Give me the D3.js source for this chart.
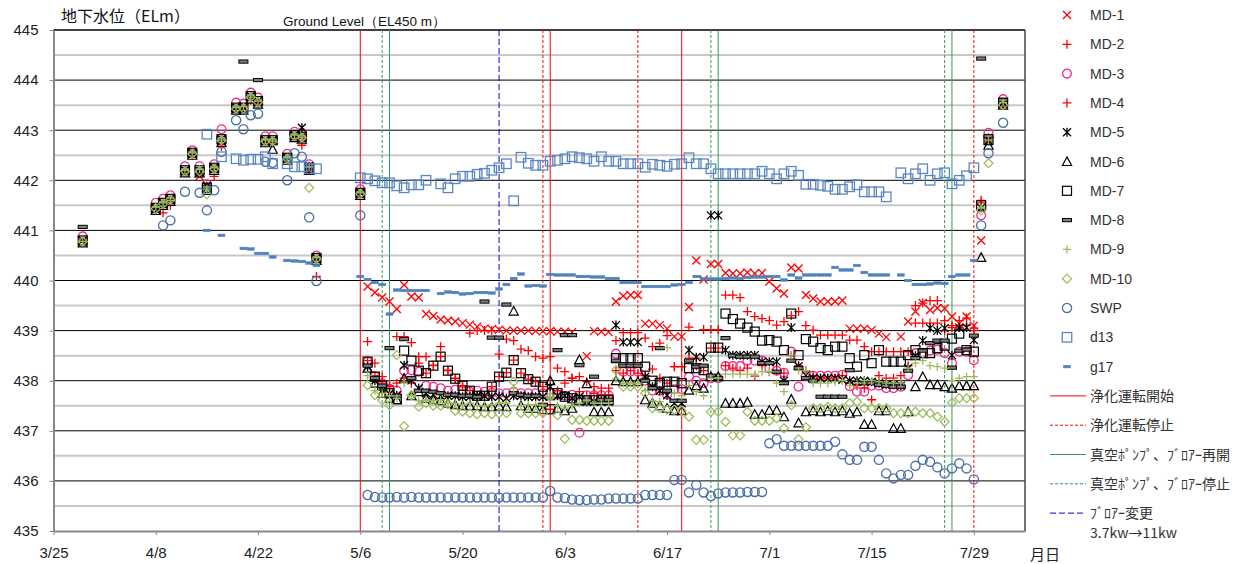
<!DOCTYPE html>
<html>
<head>
<meta charset="utf-8">
<script src="https://cdn.jsdelivr.net/npm/d3@7"></script>
<style>
body { margin: 0; background: #fff; }
svg { display: block; }
text { font-family: "Liberation Sans", Arial, sans-serif; }
.jp { font-family: "Noto Sans CJK JP", sans-serif; }
</style>
</head>
<body>
<script>
// observation days, counted from 3/25
const days = [4,14,15,16,18,19,20,21,22,23,25,26,27,28,29,30,32,33,34,35,36,42,
  43,44,45,46,47,48,49,50,51,52,53,54,55,56,57,58,59,60,61,62,63,64,65,66,67,68,69,70,71,72,
  73,74,75,76,77,78,79,80,81,82,83,84,85,86,87,88,89,90,91,92,93,94,95,96,97,98,99,100,101,102,
  103,104,105,106,107,108,109,110,111,112,113,114,115,116,117,118,119,120,121,122,123,124,125,126,
  127,128,130];

const md1 = [440.8,441.45,441.55,441.63,442.18,442.55,442.08,441.9,442.25,442.82,443.45,443.45,443.68,443.58,442.8,442.8,442.45,442.9,442.87,442.25,440.45,441.75,
  439.88,439.76,439.66,439.58,439.43,439.91,439.68,439.66,439.33,439.29,
  439.22,439.20,439.18,439.15,439.12,439.08,439.04,439.03,439.02,439.00,
  439.00,439.00,439.00,438.99,438.99,438.99,438.98,438.98,438.97,null,
  438.49,438.99,438.98,438.97,439.58,439.69,439.71,439.71,439.14,439.14,
  439.11,439.04,438.88,438.88,439.47,440.40,440.02,440.33,440.33,440.15,
  440.14,440.14,440.16,440.14,440.15,439.98,439.84,439.74,440.26,440.24,
  439.71,439.64,439.58,439.58,439.58,439.60,439.04,439.04,439.04,439.01,
  438.94,438.87,null,438.88,439.18,439.38,439.55,439.41,439.45,439.44,
  439.28,439.14,439.28,439.10,
  440.80,442.85,443.55];

const md2 = [440.78,441.42,441.35,441.5,442.15,442.5,442.15,441.85,442.08,442.68,443.42,443.42,443.65,443.55,442.75,442.75,442.42,442.85,442.7,442.2,440.08,441.72,
  438.78,438.35,438.08,437.90,438.88,438.88,438.76,438.48,438.48,438.31,
  438.68,438.21,438.05,437.88,438.95,439.00,439.00,439.00,438.53,438.83,
  438.80,438.63,438.60,438.48,438.45,438.48,438.25,438.18,438.05,438.08,
  437.98,437.88,437.85,437.85,438.80,438.96,438.96,438.96,438.85,438.68,
  438.75,438.90,438.28,438.28,439.07,438.45,439.02,439.02,439.02,439.71,
  439.71,439.66,439.38,439.28,439.24,439.20,439.11,439.18,439.30,439.38,
  439.10,439.01,438.91,438.91,438.91,438.91,438.81,438.81,438.68,438.58,
  438.58,438.58,438.58,438.58,438.58,439.15,439.15,439.15,439.15,439.00,
  439.06,439.06,439.11,439.00,
  441.60,442.80,443.50];

const md3 = [440.88,441.55,441.63,441.7,442.28,442.6,442.28,441.92,442.32,443.02,443.55,443.53,443.75,443.65,442.88,442.88,442.53,442.97,442.95,442.32,440.5,441.82,
  438.38,438.09,437.95,437.84,437.80,438.20,438.21,438.18,437.90,437.88,
  437.85,437.80,437.82,437.80,437.78,437.80,437.78,437.76,437.75,437.75,
  437.78,437.75,437.75,437.75,437.75,437.75,437.72,437.70,437.72,436.96,
  437.71,437.71,437.71,437.71,438.54,438.18,438.18,438.18,438.00,437.80,
  437.80,437.72,437.83,437.83,438.08,438.00,437.95,438.05,438.05,438.29,
  438.29,438.29,438.40,438.40,438.40,438.25,438.20,438.16,438.58,437.88,
  438.10,438.10,438.10,438.10,438.10,438.12,437.89,437.78,437.78,437.90,
  437.90,437.85,437.85,437.88,438.11,438.55,438.55,438.60,438.62,438.55,
  438.35,438.58,438.58,438.41,
  441.30,442.95,443.62];

const md4 = [440.8,441.45,441.55,441.58,442.2,442.55,442.2,441.85,442.22,442.72,443.45,443.45,443.6,443.52,442.8,442.78,442.42,442.9,442.85,442.22,440.4,441.75,
  438.40,438.10,437.95,437.88,437.95,438.05,437.95,438.35,438.15,438.30,
  438.48,438.20,438.04,437.90,437.80,437.70,437.70,437.88,438.08,438.16,
  438.41,438.15,438.03,437.98,437.88,437.43,437.80,437.95,438.05,437.78,
  437.70,437.75,437.72,437.72,438.20,438.15,438.20,438.15,438.10,438.23,
  438.05,437.95,438.28,438.28,438.45,438.30,438.20,438.65,438.65,438.30,
  438.25,438.20,438.25,438.09,438.30,438.18,438.20,438.15,438.50,438.30,
  438.20,438.10,438.05,438.05,438.05,438.10,437.95,437.90,437.85,437.62,
  438.10,438.05,438.05,438.10,438.30,439.50,439.55,439.60,439.60,439.20,
  439.10,439.20,439.25,439.05,
  441.55,442.85,443.55];

const md5 = [440.8,441.45,441.55,441.63,442.2,442.55,442.15,441.88,442.25,442.82,443.45,443.45,443.68,443.58,442.8,442.8,442.45,442.9,443.05,442.28,440.45,441.75,
  438.28,438.00,437.80,437.74,437.71,438.31,438.01,437.85,437.75,437.72,
  437.70,437.70,437.70,437.68,437.68,437.70,437.70,437.68,437.68,437.65,
  437.70,437.70,437.68,437.68,437.68,437.88,437.70,437.70,437.65,437.68,
  437.58,437.58,437.58,437.58,439.11,438.77,438.77,438.77,438.08,437.88,
  437.80,437.71,437.55,437.55,438.61,438.47,438.47,441.30,441.30,438.61,
  438.51,438.51,438.51,438.51,438.38,438.38,438.38,438.00,439.06,438.29,
  438.11,438.05,438.05,438.05,438.05,438.02,438.00,438.00,438.00,437.98,
  437.95,437.92,437.92,437.90,438.25,438.50,438.80,439.05,439.00,439.05,
  438.51,439.06,439.06,438.81,
  441.45,442.80,443.55];

const md6 = [440.75,441.4,441.5,441.58,442.15,442.5,442.15,441.8,442.2,442.75,443.4,443.4,443.62,443.52,442.75,442.62,442.4,442.85,442.82,442.2,440.4,441.7,
  438.25,437.95,437.75,437.65,437.62,438.05,437.70,437.78,437.65,437.62,
  437.60,437.55,437.52,437.50,437.50,437.50,437.48,437.48,437.50,437.48,
  439.39,437.50,437.45,437.45,437.42,438.00,437.45,437.40,437.45,438.42,
  437.94,437.38,437.38,437.38,438.00,437.98,437.98,437.98,437.62,437.55,
  437.50,437.45,437.40,437.40,437.81,437.90,437.85,438.08,438.08,437.55,
  437.55,437.55,437.57,437.33,437.33,437.41,437.41,437.28,437.63,437.16,
  437.38,437.40,437.38,437.40,437.38,437.40,437.35,437.38,437.13,437.13,
  437.40,437.40,437.05,437.05,437.38,437.88,438.08,437.92,437.92,437.88,
  437.85,437.90,437.90,437.90,
  440.46,442.70,443.50];

const md7 = [440.8,441.45,441.55,441.63,442.2,442.55,442.2,441.85,442.25,442.82,443.45,443.45,443.68,443.58,442.8,442.8,442.45,442.9,442.87,442.25,440.45,441.75,
  438.38,438.08,437.90,437.75,437.63,438.60,438.40,438.20,438.15,438.30,
  438.48,438.20,438.04,437.90,437.80,437.70,437.70,437.88,438.08,438.16,
  438.41,438.15,438.03,437.98,437.88,437.43,437.75,437.68,437.65,437.61,
  437.61,437.61,437.61,437.61,438.45,438.45,438.45,438.45,438.28,438.00,
  437.95,437.98,437.98,437.95,438.25,438.25,438.21,438.66,438.66,439.34,
  439.23,439.14,439.06,438.98,438.80,438.81,438.78,438.61,439.34,438.51,
  438.83,438.78,438.65,438.61,438.68,438.68,438.45,438.28,438.51,438.35,
  438.61,438.38,438.38,438.38,438.51,438.61,438.55,438.55,438.65,438.70,
  438.84,438.94,438.61,438.58,
  441.50,442.80,443.55];

const md8 = [441.07,441.47,441.57,441.65,442.22,442.57,442.22,441.87,442.27,442.84,443.47,444.37,443.7,444.0,442.82,442.82,442.47,442.92,442.89,442.27,440.47,441.77,
  438.30,438.05,437.90,438.65,437.70,438.83,438.05,437.80,437.80,437.78,
  437.75,437.72,437.72,437.70,437.70,437.68,439.58,438.86,438.86,439.52,
  437.75,437.72,437.70,437.70,437.52,437.65,438.61,438.91,438.91,438.31,
  437.62,438.08,437.62,437.62,438.40,438.30,438.30,438.30,438.00,437.85,
  438.65,437.80,437.60,437.60,438.40,438.28,438.30,438.10,438.05,438.85,
  438.50,438.48,438.48,438.48,438.35,438.35,438.18,437.95,438.40,438.25,
  438.05,438.00,437.68,437.68,437.68,437.68,438.21,437.95,437.95,437.95,
  437.92,437.90,437.88,437.88,438.20,438.45,438.60,438.75,438.80,438.80,
  438.26,438.60,438.62,438.90,
  444.43,442.88,443.60];

const md9 = [440.78,441.47,441.55,441.6,442.2,442.55,442.22,441.83,442.25,442.8,443.45,443.47,443.66,443.58,442.8,442.78,442.45,442.9,442.85,442.27,440.45,441.75,
  438.10,437.80,437.75,437.70,437.65,437.95,437.70,437.60,437.62,437.60,
  437.62,437.55,437.55,437.52,437.55,437.50,437.50,437.52,437.55,437.55,
  437.85,437.50,437.52,437.52,437.50,437.68,437.50,437.45,437.50,437.55,
  437.60,437.55,437.55,437.55,438.04,437.95,437.95,437.95,437.80,437.60,
  437.58,438.66,437.75,437.70,437.90,437.78,437.70,438.05,438.05,438.13,
  438.13,438.13,438.13,438.13,438.18,438.18,437.95,437.78,438.51,438.20,
  438.20,437.95,437.95,437.95,437.98,438.00,437.90,437.95,438.00,438.00,
  437.98,437.95,437.95,437.95,438.25,438.35,438.40,438.30,438.28,438.25,
  438.00,438.05,438.08,438.08,
  441.45,442.80,443.55];

const md10 = [440.78,441.43,441.53,441.61,442.18,442.53,442.18,441.72,442.23,442.8,443.43,443.43,443.66,443.56,442.78,442.78,442.43,442.88,442.85,441.85,440.43,441.73,
  437.91,437.71,437.61,437.51,438.51,437.09,437.71,437.48,437.55,437.50,
  437.50,437.53,437.40,437.38,437.35,437.33,437.35,437.33,437.35,437.35,
  437.98,437.35,437.35,437.35,437.35,437.68,437.31,436.84,437.22,437.22,
  437.20,437.20,437.20,437.20,438.21,437.88,437.88,437.88,437.75,437.45,
  437.45,437.42,437.42,437.40,437.28,436.82,436.82,437.38,437.38,437.18,
  436.91,436.91,437.38,437.20,437.20,437.20,437.25,437.05,437.51,436.83,
  437.07,437.45,437.45,437.48,437.45,437.45,437.55,437.58,437.45,437.45,
  437.45,437.45,437.35,437.35,437.35,437.38,437.35,437.35,437.28,437.18,
  437.56,437.65,437.65,437.65,
  441.40,442.34,443.50];

const swp = [null,null,441.1,441.2,441.77,null,441.75,441.4,441.8,442.57,443.2,443.02,443.3,443.33,442.37,442.35,442.0,442.54,442.47,441.26,439.99,441.3,
  435.72,435.68,435.67,435.67,435.68,435.67,435.68,435.67,435.67,435.67,
  435.67,435.67,435.67,435.67,435.67,435.67,435.67,435.67,435.67,435.67,
  435.67,435.67,435.67,435.67,435.67,435.80,435.67,435.66,435.63,435.62,
  435.62,435.63,435.63,435.65,435.65,435.65,435.65,435.65,435.72,435.72,
  435.72,435.72,436.02,436.02,435.77,435.92,435.77,435.70,435.75,435.77,
  435.77,435.77,435.78,435.78,435.78,436.75,436.83,436.70,436.70,436.70,
  436.70,436.70,436.70,436.70,436.78,436.53,436.42,436.42,436.68,436.68,
  436.42,436.15,436.05,436.12,436.12,436.30,436.42,436.38,436.27,436.15,
  436.25,436.35,436.25,436.03,
  441.10,442.54,443.15];

const d13 = [null,null,null,null,null,null,null,442.92,null,442.47,442.43,442.4,442.42,442.42,442.47,442.33,442.33,442.27,442.27,442.23,442.23,442.05,
  442.03,441.99,441.95,441.95,441.89,441.85,441.91,441.91,442.00,null,
  441.93,441.85,442.03,442.08,442.08,442.12,442.14,442.20,442.25,442.33,
  441.59,442.46,442.34,442.30,442.30,442.38,442.40,442.43,442.47,442.45,
  442.43,442.38,442.47,442.38,442.38,442.33,442.33,442.33,442.26,442.32,
  442.30,442.28,442.32,442.33,442.45,442.33,442.33,442.23,442.13,442.13,
  442.13,442.13,442.13,442.13,442.18,442.13,442.03,442.13,442.18,442.10,
  441.92,441.92,441.90,441.88,441.82,441.82,441.87,441.91,441.77,441.77,
  441.77,441.67,null,442.15,442.03,442.13,442.23,442.00,442.13,442.15,
  441.93,442.00,442.09,442.25,
  null,null,null];

const g17 = [null,null,null,null,null,null,null,441.0,null,440.9,null,440.64,440.63,440.54,440.54,440.47,440.4,440.39,440.38,440.35,440.3,440.08,
  440.02,439.96,439.92,439.33,439.81,439.80,439.80,439.80,439.80,null,
  439.74,439.77,439.76,439.73,439.74,439.76,439.76,439.75,439.83,439.92,
  440.04,440.13,439.89,439.90,439.89,440.12,440.11,440.11,440.11,440.08,
  440.08,440.07,440.07,440.04,440.04,439.96,439.96,439.96,439.88,439.88,
  439.88,439.88,439.91,439.92,439.96,440.08,440.03,440.03,440.03,440.04,
  440.05,440.04,440.06,440.07,440.07,440.08,440.08,440.01,440.11,440.05,
  440.11,440.11,440.11,440.11,440.26,440.21,440.21,440.30,440.16,440.11,
  440.11,440.11,null,440.11,440.00,439.92,439.92,439.93,439.95,439.94,
  440.08,440.11,440.11,440.40,
  null,null,null];

// event days (from 3/25)
const cleanStart = [42, 68, 86];
const cleanStop = [67, 80, 126];
const pumpResume = [46, 91, 123];
const pumpStop = [45, 90, 122];
const blowerChange = [61];

const yTicks = [435,436,437,438,439,440,441,442,443,444,445];
const xTickDays = [0,14,28,42,56,70,84,98,112,126];

const width = 1238, height = 564;
const margin = { top: 30, right: 213, bottom: 33, left: 53.5 };
const start = new Date(2013, 2, 25);
const dateOf = d => d3.timeDay.offset(start, d);

const svg = d3.select("body").append("svg")
    .attr("width", width)
    .attr("height", height);

const x = d3.scaleTime()
    .domain([start, dateOf(133)])
    .range([margin.left, width - margin.right]);
const y = d3.scaleLinear()
    .domain([435, 445])
    .range([height - margin.bottom, margin.top]);

const [x0, x1] = x.range();

// grid
svg.append("g").selectAll("line")
    .data(d3.range(435.5, 445, 1))
    .join("line")
    .attr("x1", x0).attr("x2", x1)
    .attr("y1", d => y(d)).attr("y2", d => y(d))
    .attr("stroke", "#c8c8c8")
    .attr("stroke-width", 2);
svg.append("g").selectAll("line")
    .data(yTicks.slice(1))
    .join("line")
    .attr("x1", x0).attr("x2", x1)
    .attr("y1", d => y(d)).attr("y2", d => y(d))
    .attr("stroke", "#000")
    .attr("stroke-width", d => d === 445 ? 1.6 : 1);

// right border
svg.append("line")
    .attr("x1", x1).attr("x2", x1)
    .attr("y1", y(445)).attr("y2", y(435))
    .attr("stroke", "#444")
    .attr("stroke-width", 1.5);

// axes
const yAxis = svg.append("g")
    .attr("transform", `translate(${x0},0)`)
    .call(d3.axisLeft(y).tickValues(yTicks).tickSize(4).tickSizeOuter(0).tickPadding(11).tickFormat(d3.format("d")));
yAxis.select(".domain").attr("stroke", "#888").attr("stroke-width", 2);
yAxis.selectAll(".tick line").attr("stroke", "#888");
yAxis.selectAll(".tick text").attr("font-size", 15).attr("fill", "#222");

const xAxis = svg.append("g")
    .attr("transform", `translate(0,${y(435)})`)
    .call(d3.axisBottom(x).tickValues(xTickDays.map(dateOf)).tickSize(4).tickSizeOuter(0).tickPadding(12)
        .tickFormat(d3.timeFormat("%-m/%-d")));
xAxis.select(".domain").attr("stroke", "#888").attr("stroke-width", 2);
xAxis.selectAll(".tick line").attr("stroke", "#888");
xAxis.selectAll(".tick text").attr("font-size", 15).attr("fill", "#222");

svg.append("text").attr("class", "jp")
    .attr("x", 1030).attr("y", 560)
    .attr("font-size", 15).attr("fill", "#222")
    .text("月日");

// titles
svg.append("text").attr("class", "jp")
    .attr("x", 61).attr("y", 22)
    .attr("font-size", 16).attr("fill", "#111")
    .text("地下水位（ELm）");
svg.append("text")
    .attr("x", 283).attr("y", 26)
    .attr("font-size", 13.5).attr("fill", "#111")
    .text("Ground Level（EL450 m）");

// event lines
const eventStyles = [
    { name: "浄化運転開始", days: cleanStart, color: "#ff0000", dash: null },
    { name: "浄化運転停止", days: cleanStop, color: "#ff0000", dash: "3,2" },
    { name: "真空ﾎﾟﾝﾌﾟ、ﾌﾞﾛｱｰ再開", days: pumpResume, color: "#2e9a5a", dash: null },
    { name: "真空ﾎﾟﾝﾌﾟ、ﾌﾞﾛｱｰ停止", days: pumpStop, color: "#2e9a5a", dash: "3,2" },
    { name: "ﾌﾞﾛｱｰ変更", days: blowerChange, color: "#0000dd", dash: "6,3" }
];
eventStyles.forEach(ev => {
    svg.append("g").selectAll("line")
        .data(ev.days)
        .join("line")
        .attr("x1", d => x(dateOf(d))).attr("x2", d => x(dateOf(d)))
        .attr("y1", y(445)).attr("y2", y(435))
        .attr("stroke", ev.color)
        .attr("stroke-width", 1)
        .attr("stroke-dasharray", ev.dash);
});

// markers
function marker(g, s) {
    if (s.kind === "path") {
        g.append("path").attr("d", s.d)
            .attr("fill", s.fill || "none")
            .attr("stroke", s.color)
            .attr("stroke-width", s.sw || 1.2);
    } else if (s.kind === "circle") {
        g.append("circle").attr("r", s.r)
            .attr("fill", "none")
            .attr("stroke", s.color)
            .attr("stroke-width", s.sw || 1.2);
    } else if (s.kind === "rect") {
        g.append("rect")
            .attr("x", -s.w / 2).attr("y", -s.h / 2)
            .attr("width", s.w).attr("height", s.h)
            .attr("fill", s.fill || "none")
            .attr("stroke", s.color)
            .attr("stroke-width", s.sw || 1.2);
    }
}

const red = "#ff0000", green = "#9bbb59";
const series = [
    { name: "MD-1", values: md1, m: { kind: "path", d: "M-4,-4L4,4M-4,4L4,-4", color: red, sw: 1.3 } },
    { name: "MD-2", values: md2, m: { kind: "path", d: "M-4.5,0H4.5M0,-4.5V4.5", color: red, sw: 1.3 } },
    { name: "MD-3", values: md3, m: { kind: "circle", r: 4.4, color: "#f0308c", sw: 1.3 } },
    { name: "MD-4", values: md4, m: { kind: "path", d: "M-4.5,0H4.5M0,-4.5V4.5", color: red, sw: 1.3 } },
    { name: "MD-5", values: md5, m: { kind: "path", d: "M-4,-4L4,4M-4,4L4,-4M0,-4.5V4.5", color: "#000", sw: 1.3 } },
    { name: "MD-6", values: md6, m: { kind: "path", d: "M0,-4.6L4.6,4H-4.6Z", color: "#000", sw: 1.2 } },
    { name: "MD-7", values: md7, m: { kind: "rect", w: 9, h: 9, color: "#000", sw: 1.2 } },
    { name: "MD-8", values: md8, m: { kind: "rect", w: 9, h: 3.2, color: "#000", fill: "#808080", sw: 1 } },
    { name: "MD-9", values: md9, m: { kind: "path", d: "M-4,0H4M0,-4V4", color: green, sw: 1.3 } },
    { name: "MD-10", values: md10, m: { kind: "path", d: "M0,-4.5L4.5,0L0,4.5L-4.5,0Z", color: green, sw: 1.2 } },
    { name: "SWP", values: swp, m: { kind: "circle", r: 4.6, color: "#4a6ea8", sw: 1.3 } },
    { name: "d13", values: d13, m: { kind: "rect", w: 9.5, h: 9.5, color: "#5b86c4", sw: 1.3 } },
    { name: "g17", values: g17, m: { kind: "rect", w: 7, h: 2.6, color: "#4f81bd", fill: "#4f81bd", sw: 0.5 } }
];

series.forEach(s => {
    const pts = days.map((d, i) => ({ d, v: s.values[i] })).filter(p => p.v != null);
    svg.append("g").selectAll("g")
        .data(pts)
        .join("g")
        .attr("transform", p => `translate(${x(dateOf(p.d))},${y(p.v)})`)
        .each(function () { marker(d3.select(this), s.m); });
});

// legend
const legend = svg.append("g").attr("transform", "translate(1067,0)");
const rowY = i => 15 + i * 29.3;
series.forEach((s, i) => {
    const g = legend.append("g").attr("transform", `translate(0,${rowY(i)})`);
    marker(g, s.m);
    g.append("text").attr("x", 23).attr("y", 5)
        .attr("font-size", 14).attr("fill", "#333")
        .text(s.name);
});
eventStyles.forEach((ev, j) => {
    const yy = rowY(series.length + j);
    legend.append("line")
        .attr("x1", -17).attr("x2", 19)
        .attr("y1", yy).attr("y2", yy)
        .attr("stroke", ev.color)
        .attr("stroke-width", 1)
        .attr("stroke-dasharray", ev.dash);
    legend.append("text").attr("class", "jp")
        .attr("x", 23).attr("y", yy + 5)
        .attr("font-size", 14).attr("fill", "#333")
        .text(ev.name);
});
legend.append("text").attr("class", "jp")
    .attr("x", 23).attr("y", rowY(series.length + 5) - 4)
    .attr("font-size", 14).attr("fill", "#333")
    .text("3.7kw→11kw");
</script>
</body>
</html>
